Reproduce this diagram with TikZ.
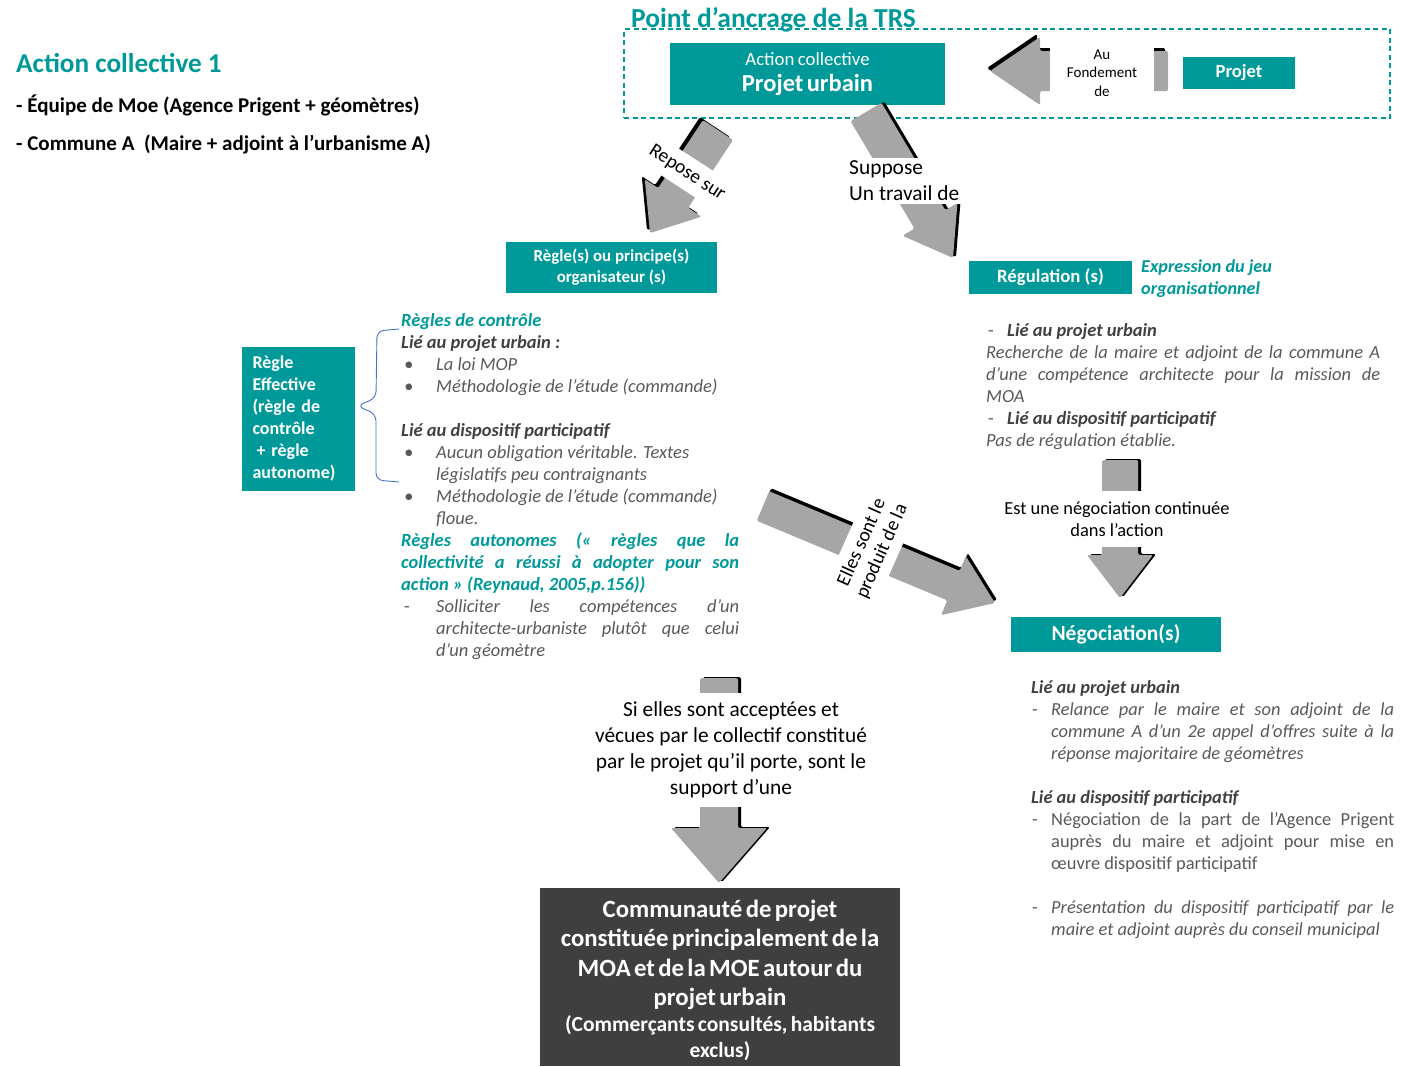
\documentclass[tikz,border=0pt]{standalone}
\usepackage{fontspec}
\setmainfont{Carlito}
\usetikzlibrary{calc}
\setlength\parindent{0pt}
\definecolor{tealc}{HTML}{009999}
\definecolor{dgrey}{HTML}{404040}
\definecolor{mgrey}{HTML}{595959}
\definecolor{agrey}{HTML}{A6A6A6}
\definecolor{dbox}{HTML}{3F3F3F}
\definecolor{braceblue}{HTML}{4472C4}
\newcommand\fs[2]{\fontsize{#1}{#2}\selectfont}
\newcommand\bul{\hangindent=35pt\hangafter=1\noindent\makebox[35pt][l]{\hspace{3pt}•}}
\newcommand\dashitem{\hangindent=20pt\hangafter=1\noindent\makebox[20pt][l]{\hspace{1pt}-}}
\newcommand\blockarrow[6]{%
  \path let \p1=($(#2)-(#1)$) in \pgfextra{\pgfmathsetmacro\tmpa{atan2(\y1,\x1)}\pgfmathsetmacro\tmpl{veclen(\x1,\y1)}\global\let\BA\tmpa\global\let\BL\tmpl};
  \pgfmathsetmacro\BB{\BL-#5}
  \fill[black, rounded corners=1.5pt, shift={(#1)}, shift={#6}, rotate=\BA]
    (0,-#3) -- (\BB,-#3) -- (\BB,-#4) -- (\BL,0) -- (\BB,#4) -- (\BB,#3) -- (0,#3) -- cycle;
  \fill[agrey, rounded corners=1.5pt, shift={(#1)}, rotate=\BA]
    (0,-#3) -- (\BB,-#3) -- (\BB,-#4) -- (\BL,0) -- (\BB,#4) -- (\BB,#3) -- (0,#3) -- cycle;
}
\tikzset{
  tealbox/.style={fill=tealc, text=white, inner sep=0, align=center},
  cover/.style={fill=white, inner sep=3pt, align=center, text=black},
  txt/.style={inner sep=0, anchor=north west, align=justify},
  line/.style={inner sep=0, anchor=base west},
}
\begin{document}
\begin{tikzpicture}[x=1pt,y=-1pt]
\useasboundingbox (0,0) rectangle (1403,1066);

% left header
\node[line, text=tealc, font=\fs{27.2}{32}\bfseries] (t1) at (16,72) {Action collective 1};
\node[line, font=\fs{21}{25}\bfseries] (t2) at (16,112.5) {- Équipe de Moe (Agence Prigent + géomètres)};
\node[line, font=\fs{21}{25}\bfseries] (t3) at (16,150.5) {- Commune A\ \ (Maire + adjoint à l’urbanisme A)};

% anchor zone
\node[line, text=tealc, font=\fs{27.5}{32}\bfseries] (t4) at (631,27) {Point d’ancrage de la TRS};
\node[draw=tealc, dash pattern=on 5pt off 3.5pt, line width=1.2pt, minimum width=766pt, minimum height=89pt, inner sep=0] (zone) at (1007,73.5) {};
\node[tealbox, minimum width=275pt, minimum height=62pt, text width=270pt] (ac) at (807.5,74)
  {{\fs{18.8}{26}Action collective\par}{\fs{24.5}{26.5}\bfseries Projet urbain\par}};
\node[tealbox, minimum width=112pt, minimum height=32pt, font=\fs{18.6}{22}\bfseries] (projet) at (1239,73) {Projet};

% boxes
\node[tealbox, minimum width=211pt, minimum height=51pt, font=\fs{16.9}{21}\bfseries] (regles) at (611.5,267.5) {Règle(s) ou principe(s)\\organisateur (s)};
\node[tealbox, minimum width=163pt, minimum height=33pt, font=\fs{18.7}{22}\bfseries] (regul) at (1050.5,277.5) {Régulation (s)};
\node[inner sep=0, anchor=north west, align=left, text=tealc, font=\fs{18.2}{22}\bfseries\itshape] (expr) at (1141,256.5) {\strut Expression du jeu\\organisationnel};
\node[tealbox, minimum width=113pt, minimum height=144pt, text width=92pt, align=left, font=\fs{18}{22}\bfseries] (reff) at (298.5,419)
  {Règle\\Effective\\(règle de\\contrôle\\\hspace{4pt}+ règle\\autonome)};
\node[tealbox, minimum width=210pt, minimum height=35pt, font=\fs{21.5}{24}\bfseries] (nego) at (1116,634.5) {Négociation(s)};
\node[fill=dbox, minimum width=360pt, minimum height=178pt, inner sep=0] (comm) at (720,977) {};
\node[text=white, text width=356pt, align=center, inner sep=0, font=\bfseries] (commtxt) at ([yshift=-3.5pt]comm.center)
  {{\fs{24.8}{29.3}Communauté de projet\\constituée principalement de la\\MOA et de la MOE autour du\\projet urbain\par}{\fs{21.5}{26}(Commerçants consultés, habitants\\exclus)\par}};

% brace
\draw[braceblue, line width=0.9pt, rounded corners=7pt] (399,329) -- (377,331) -- (376,398) -- (357,406) -- (376,414) -- (376,480) -- (399,482);

% middle text
\node[txt, text width=338pt, font=\fs{18.5}{22}, text=mgrey] (mid) at (401,311) {%
\strut{\color{tealc}\bfseries\itshape Règles de contrôle}\par
{\color{dgrey}\bfseries\itshape Lié au projet urbain :}\par
\itshape
\bul La loi MOP\par
\bul Méthodologie de l’étude (commande)\par
\mbox{}\par
{\color{dgrey}\bfseries Lié au dispositif participatif}\par
\bul Aucun obligation véritable. Textes\newline législatifs peu contraignants\par
\bul Méthodologie de l’étude (commande)\newline floue.\par
{\color{tealc}\bfseries Règles autonomes (« règles que la\linebreak collectivité a réussi à adopter pour son\linebreak action » (Reynaud, 2005,p.156))\par}
\hangindent=35pt\hangafter=1\noindent\makebox[35pt][l]{\hspace{3pt}\upshape -}Solliciter les compétences d’un\linebreak architecte-urbaniste plutôt que celui\linebreak d’un géomètre\par};

% right text (regulation)
\node[txt, text width=394pt, font=\fs{18.5}{22}\itshape, text=mgrey] (rreg) at (986,321) {%
\strut\makebox[21pt][l]{\hspace{2pt}\upshape -}{\color{dgrey}\bfseries Lié au projet urbain}\par
Recherche de la maire et adjoint de la commune A\linebreak d’une compétence architecte pour la mission de\linebreak MOA\par
\makebox[21pt][l]{\hspace{2pt}\upshape -}{\color{dgrey}\bfseries Lié au dispositif participatif}\par
Pas de régulation établie.\par};

% right text (negotiation)
\node[txt, text width=363pt, font=\fs{18.4}{22}, text=mgrey] (rneg) at (1031,678) {%
\strut{\color{dgrey}\bfseries\itshape Lié au projet urbain}\par
\dashitem{\itshape Relance par le maire et son adjoint de la\linebreak commune A d’un 2e appel d’offres suite à la\linebreak réponse majoritaire de géomètres}\par
\mbox{}\par
{\color{dgrey}\bfseries\itshape Lié au dispositif participatif}\par
\dashitem Négociation de la part de l’Agence Prigent\linebreak auprès du maire et adjoint pour mise en\linebreak œuvre dispositif participatif\par
\mbox{}\par
\dashitem{\itshape Présentation du dispositif participatif par le\linebreak maire et adjoint auprès du conseil municipal}\par};

% arrow end points
\coordinate (f1) at (1168,71);  \coordinate (f2) at (990,71);
\coordinate (r1) at (718,130);  \coordinate (r2) at (650,233);
\coordinate (s1) at (866,112);  \coordinate (s2) at (953,258);
\coordinate (e1) at (763,506);  \coordinate (e2) at (995,603);
\coordinate (n1) at (1120,460); \coordinate (n2) at (1120,598);
\coordinate (c1) at (719,678);  \coordinate (c2) at (719,883);

% block arrows
\blockarrow{f1}{f2}{20}{34}{50}{(-3,-3)}
\blockarrow{r1}{r2}{18}{34}{42}{(-3,-3)}
\blockarrow{s1}{s2}{18}{32}{45}{(3,-1)}
\blockarrow{e1}{e2}{16}{32}{45}{(2,-3)}
\blockarrow{n1}{n2}{18}{33}{43}{(3,-1)}
\blockarrow{c1}{c2}{19}{48}{55}{(3,-1)}

% arrow labels (covering the shafts)
\node[cover, minimum width=104pt, minimum height=56pt, inner sep=0, font=\fs{15}{18.5}] (lf) at (1102,73) {Au\\Fondement\\de};
\node[cover, rotate=-33, minimum width=104pt, minimum height=32pt, inner sep=0, font=\fs{19.5}{22}] (lr) at (687,173) {Repose sur};
\node[cover, anchor=west, align=left, font=\fs{21.4}{26}] (ls) at (846,181) {Suppose\\Un travail de};
\node[cover, rotate=66, minimum height=54pt, font=\fs{19.5}{22}] (le) at (872,547) {Elles sont le\\produit de la};
\node[cover, minimum height=56pt, font=\fs{18.4}{22}] (ln) at (1117,519) {Est une négociation continuée\\dans l’action};
\node[cover, minimum height=114pt, font=\fs{21.4}{26}] (lc) at (731,749.5) {Si elles sont acceptées et\\vécues par le collectif constitué\\par le projet qu’il porte, sont le\\support d’une};
\end{tikzpicture}
\end{document}
